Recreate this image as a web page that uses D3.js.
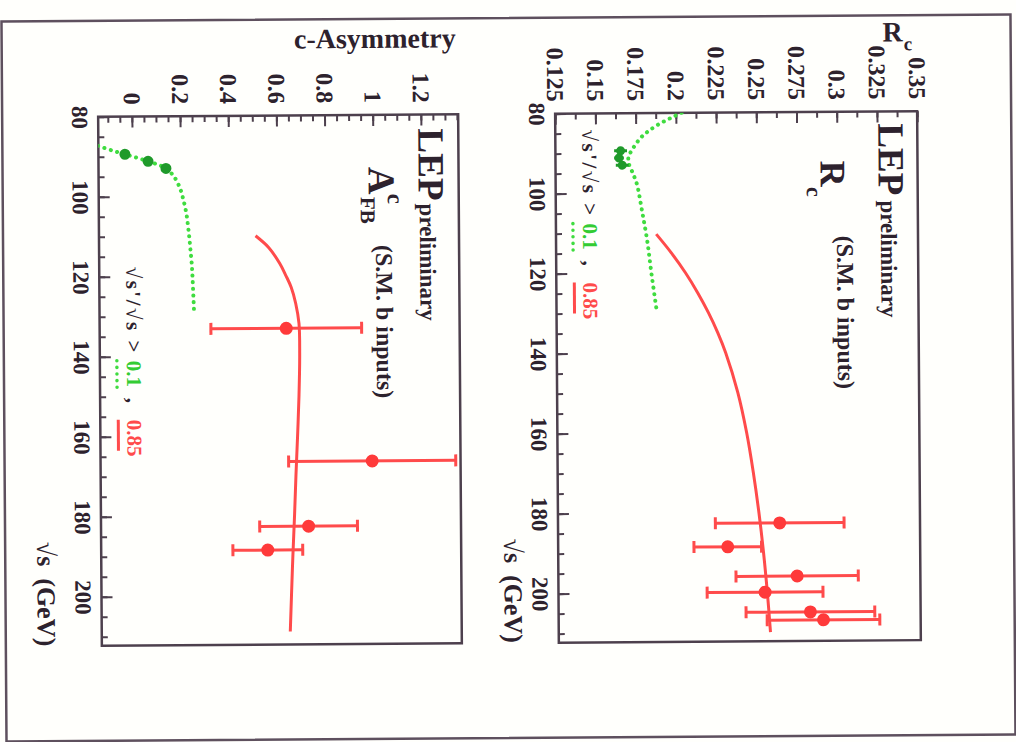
<!DOCTYPE html>
<html>
<head>
<meta charset="utf-8">
<script src="https://cdn.jsdelivr.net/npm/d3@7"></script>
<style>
  html, body { margin: 0; padding: 0; background: #ffffff; }
  svg { display: block; }
</style>
</head>
<body>
<svg id="chart" width="1016" height="742"></svg>
<script>
// ---------------- data ----------------
const energyLabels = [80, 100, 120, 140, 160, 180, 200];
const afbLabels = [0, 0.2, 0.4, 0.6, 0.8, 1, 1.2];
const rcLabels = [0.125, 0.15, 0.175, 0.2, 0.225, 0.25, 0.275, 0.3, 0.325, 0.35];

// A_FB^c : Standard Model expectation, sqrt(s')/sqrt(s) > 0.1   [sqrt(s) GeV, A_FB]
const afbCurveInclusive = [
  [87.25, -0.141], [88.5, -0.08], [89.4, -0.03], [90.3, 0.02], [91.2, 0.066],
  [92.0, 0.105], [93.0, 0.14], [94.2, 0.162], [95.5, 0.178], [98.0, 0.198],
  [101.0, 0.212], [104.5, 0.224], [108.5, 0.232], [113.0, 0.239], [117.5, 0.245],
  [123.0, 0.249], [129.5, 0.253]
];
// A_FB^c : Standard Model expectation, sqrt(s')/sqrt(s) > 0.85
const afbCurveExclusive = [
  [110, 0.51], [113, 0.565], [117, 0.61], [120, 0.635], [123, 0.657], [127, 0.675],
  [132, 0.688], [140, 0.69], [150, 0.686], [160, 0.679], [170, 0.671], [180, 0.664],
  [190, 0.656], [200, 0.649], [209, 0.643]
];
// A_FB^c measurements near the Z pole
const afbPoleEnergy = [89.4, 91.2, 93.0];
const afbPoleValue = [-0.03, 0.066, 0.14];
// A_FB^c high-energy measurements
const afbHighEnergy = [133.2, 166.5, 182.7, 188.6];
const afbHighValue = [0.635, 0.988, 0.722, 0.552];
const afbHighError = [0.313, 0.347, 0.203, 0.145];

// R_c : Standard Model expectation, sqrt(s')/sqrt(s) > 0.1
const rcCurveInclusive = [
  [80.0, 0.2036], [81.25, 0.197], [82.8, 0.1895], [84.5, 0.183], [86.0, 0.1785],
  [87.75, 0.175], [89.3, 0.1725], [90.75, 0.1705], [92.5, 0.1705], [95.0, 0.173],
  [97.75, 0.1755], [104.5, 0.1786], [112.0, 0.1817], [120.25, 0.1842], [129.5, 0.1873]
];
// R_c : Standard Model expectation, sqrt(s')/sqrt(s) > 0.85
const rcCurveExclusive = [
  [110.3, 0.1873], [115, 0.1966], [120, 0.2053], [125, 0.2128], [130, 0.2194],
  [135, 0.2251], [140, 0.2299], [150, 0.2373], [160, 0.2426], [170, 0.2466],
  [180, 0.2499], [190, 0.2526], [200, 0.2548], [210, 0.2566]
];
// R_c measurements near the Z pole
const rcPoleEnergy = [89.4, 91.2, 93.0];
const rcPoleValue = [0.1655, 0.1645, 0.1665];
const rcPoleError = [0.004, 0.003, 0.004];
// R_c high-energy measurements
const rcHighEnergy = [182.7, 188.6, 196, 200, 205, 207];
const rcHighValue = [0.2628, 0.2304, 0.2734, 0.2534, 0.2815, 0.2896];
const rcHighError = [0.040, 0.021, 0.038, 0.036, 0.040, 0.035];

// ---------------- styling ----------------
const FONT = '"Liberation Serif", "Times New Roman", serif';
const INK = "#2d222d";
const FRAME = "#4d404d";
const RED = "#ff4b4b";
const GREEN = "#3fdc3f";
const DARK_GREEN = "#1f9a2a";
const energyDomain = [80, 212.25];

const svg = d3.select("#chart");
svg.append("rect").attr("width", 1016).attr("height", 742).attr("fill", "#fffffc");

// the whole sheet sits very slightly tilted
const page = svg.append("g").attr("transform", "rotate(-0.4,508,380)")
  .attr("font-family", FONT).attr("font-weight", "bold");

page.append("rect")
  .attr("x", 4).attr("y", 18).attr("width", 1009).attr("height", 720)
  .attr("fill", "none").attr("stroke", "#5e505e").attr("stroke-width", 2.5);

function rotText(parent, x, y, str, size, opts = {}) {
  const t = parent.append("text")
    .attr("transform", `translate(${x},${y}) rotate(90)`)
    .attr("font-size", size)
    .attr("text-anchor", opts.anchor || "start")
    .attr("fill", opts.fill || INK)
    .text(str);
  if (opts.spacing) t.attr("letter-spacing", opts.spacing);
  return t;
}

const fmt = d => String(+d.toFixed(4));

function drawPanel(p) {
  const e = d3.scaleLinear().domain(energyDomain).range([p.top, p.bottom]);
  const v = d3.scaleLinear().domain(p.valueDomain).range([p.left, p.right]);
  const g = page.append("g");

  const styleAxis = sel => {
    sel.select(".domain").remove();
    sel.attr("font-family", null).attr("font-size", null).attr("color", FRAME);
    sel.selectAll("line").attr("stroke-width", 2);
  };

  // value axis along the top edge, ticks pointing inward
  g.append("g").attr("transform", `translate(0,${p.top})`)
    .call(d3.axisTop(v).tickValues(p.valueMinor).tickSize(-6).tickFormat(""))
    .call(styleAxis);
  g.append("g").attr("transform", `translate(0,${p.top})`)
    .call(d3.axisTop(v).tickValues(p.valueLabels).tickSize(-11).tickFormat(fmt))
    .call(styleAxis)
    .selectAll("text")
    .attr("x", 0).attr("y", 0).attr("dy", "0.35em")
    .attr("transform", "translate(0,-12) rotate(90)")
    .attr("text-anchor", "end").attr("font-size", 24).attr("fill", INK);

  // energy axis along the left edge
  g.append("g").attr("transform", `translate(${p.left},0)`)
    .call(d3.axisLeft(e).tickValues(d3.range(80, 212.5, 5)).tickSize(-6).tickFormat(""))
    .call(styleAxis);
  g.append("g").attr("transform", `translate(${p.left},0)`)
    .call(d3.axisLeft(e).tickValues(energyLabels).tickSize(-11).tickFormat(fmt))
    .call(styleAxis)
    .selectAll("text")
    .attr("x", 0).attr("y", 0).attr("dy", "0.35em")
    .attr("transform", "translate(-18,0) rotate(90)")
    .attr("text-anchor", "middle").attr("font-size", 23).attr("fill", INK);

  // frame
  g.append("rect")
    .attr("x", p.left).attr("y", p.top)
    .attr("width", p.right - p.left).attr("height", p.bottom - p.top)
    .attr("fill", "none").attr("stroke", FRAME).attr("stroke-width", 2.5);

  // energy axis title
  const et = rotText(g, p.energyTitleX, p.bottom, "√s", 26, { anchor: "end" });
  et.append("tspan").attr("dx", 12).text("(GeV)");

  const clipId = "clip-" + p.name;
  g.append("clipPath").attr("id", clipId).append("rect")
    .attr("x", p.left).attr("y", p.top)
    .attr("width", p.right - p.left).attr("height", p.bottom - p.top);
  const plot = g.append("g").attr("clip-path", `url(#${clipId})`);

  const line = d3.line().x(d => v(d[1])).y(d => e(d[0])).curve(d3.curveCatmullRom.alpha(0.5));

  plot.append("path").datum(p.curveInclusive).attr("d", line)
    .attr("fill", "none").attr("stroke", GREEN).attr("stroke-width", 4)
    .attr("stroke-linecap", "round").attr("stroke-dasharray", "0.1 6.5");
  plot.append("path").datum(p.curveExclusive).attr("d", line)
    .attr("fill", "none").attr("stroke", RED).attr("stroke-width", 3);

  // pole measurements
  const pole = p.poleEnergy.map((E, i) => ({ E, val: p.poleValue[i], err: p.poleError ? p.poleError[i] : 0 }));
  plot.selectAll(".pole-bar").data(pole.filter(d => d.err > 0)).join("line")
    .attr("x1", d => v(d.val - d.err)).attr("x2", d => v(d.val + d.err))
    .attr("y1", d => e(d.E)).attr("y2", d => e(d.E))
    .attr("stroke", DARK_GREEN).attr("stroke-width", 3);
  plot.selectAll(".pole-pt").data(pole).join("circle")
    .attr("cx", d => v(d.val)).attr("cy", d => e(d.E)).attr("r", p.poleRadius)
    .attr("fill", DARK_GREEN);

  // high-energy measurements with error bars
  const high = p.highEnergy.map((E, i) => ({ E, val: p.highValue[i], err: p.highError[i] }));
  const bars = plot.selectAll(".hi").data(high).join("g").attr("class", "hi");
  bars.append("line")
    .attr("x1", d => v(d.val - d.err)).attr("x2", d => v(d.val + d.err))
    .attr("y1", d => e(d.E)).attr("y2", d => e(d.E))
    .attr("stroke", RED).attr("stroke-width", 3);
  [-1, 1].forEach(s => {
    bars.append("line")
      .attr("x1", d => v(d.val + s * d.err)).attr("x2", d => v(d.val + s * d.err))
      .attr("y1", d => e(d.E) - 6).attr("y2", d => e(d.E) + 6)
      .attr("stroke", RED).attr("stroke-width", 3);
  });
  bars.append("circle")
    .attr("cx", d => v(d.val)).attr("cy", d => e(d.E)).attr("r", 6.5)
    .attr("fill", "#ff3a3a");

  return g;
}

// legend: sqrt(s')/sqrt(s) cut values with line-style samples
function drawCutLegend(g, x, y0) {
  rotText(g, x, y0, "√s'/√s >", 21, { spacing: 2.5 });
  rotText(g, x, y0 + 94, "0.1", 21, { fill: "#33cc33" });
  rotText(g, x, y0 + 131, ",", 21);
  rotText(g, x, y0 + 153, "0.85", 21, { fill: RED });
  g.append("line").attr("x1", x - 10).attr("x2", x - 10)
    .attr("y1", y0 + 94).attr("y2", y0 + 127)
    .attr("stroke", GREEN).attr("stroke-width", 3.5).attr("stroke-linecap", "round")
    .attr("stroke-dasharray", "0.1 6.5");
  g.append("line").attr("x1", x - 9).attr("x2", x - 9)
    .attr("y1", y0 + 153).attr("y2", y0 + 184)
    .attr("stroke", RED).attr("stroke-width", 3);
}

// ---------------- c-quark forward-backward asymmetry ----------------
const gA = drawPanel({
  name: "afb", left: 100, right: 460, top: 114, bottom: 643,
  valueDomain: [-0.14, 1.355], valueLabels: afbLabels,
  valueMinor: d3.range(-0.1, 1.36, 0.05),
  curveInclusive: afbCurveInclusive, curveExclusive: afbCurveExclusive,
  poleEnergy: afbPoleEnergy, poleValue: afbPoleValue, poleRadius: 5.5,
  highEnergy: afbHighEnergy, highValue: afbHighValue, highError: afbHighError,
  energyTitleX: 36
});
gA.append("text").attr("x", 458).attr("y", 47).attr("text-anchor", "end")
  .attr("font-size", 28).attr("fill", INK).text("c-Asymmetry");
rotText(gA, 420, 128, "LEP", 37);
rotText(gA, 421, 203, "preliminary", 23);
rotText(gA, 370, 166, "A", 38);
rotText(gA, 389, 193, "c", 23);
rotText(gA, 362, 196, "FB", 21);
rotText(gA, 377, 244, "(S.M. b inputs)", 24);
drawCutLegend(gA, 127, 264);

// ---------------- R_c ----------------
const gR = drawPanel({
  name: "rc", left: 557, right: 919, top: 114, bottom: 643,
  valueDomain: [0.125, 0.35], valueLabels: rcLabels,
  valueMinor: d3.range(0.125, 0.351, 0.0125),
  curveInclusive: rcCurveInclusive, curveExclusive: rcCurveExclusive,
  poleEnergy: rcPoleEnergy, poleValue: rcPoleValue, poleError: rcPoleError, poleRadius: 4.5,
  highEnergy: rcHighEnergy, highValue: rcHighValue, highError: rcHighError,
  energyTitleX: 503
});
gR.append("text").attr("x", 905).attr("y", 44).attr("text-anchor", "end")
  .attr("font-size", 28).attr("fill", INK).text("R");
gR.append("text").attr("x", 906).attr("y", 53)
  .attr("font-size", 19).attr("fill", INK).text("c");
rotText(gR, 880, 126, "LEP", 37);
rotText(gR, 882, 203, "preliminary", 23);
rotText(gR, 822, 163, "R", 36);
rotText(gR, 808, 189, "c", 22);
rotText(gR, 838, 238, "(S.M. b inputs)", 24);
drawCutLegend(gR, 584, 130);
</script>
</body>
</html>
